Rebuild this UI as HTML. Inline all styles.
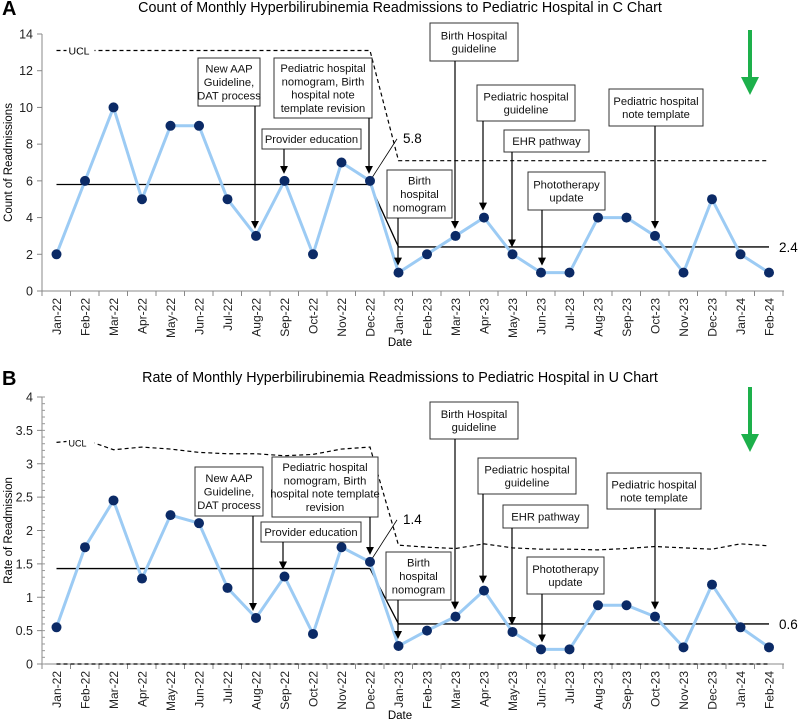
<!DOCTYPE html>
<html><head><meta charset="utf-8"><style>
body{margin:0;background:#fff;}
svg{display:block;font-family:"Liberation Sans",Arial,sans-serif;}
.ann{font-family:"Liberation Sans",sans-serif;font-size:11.2px;fill:#111;}
</style></head><body>
<svg id="s" width="800" height="724" viewBox="0 0 800 724" xmlns="http://www.w3.org/2000/svg">
<defs><marker id="ah" markerWidth="8" markerHeight="8" refX="6" refY="4" orient="auto" markerUnits="userSpaceOnUse"><path d="M0,0 L8,4 L0,8 z" fill="#000"/></marker></defs>
</svg>
<script>
const months=["Jan-22","Feb-22","Mar-22","Apr-22","May-22","Jun-22","Jul-22","Aug-22","Sep-22","Oct-22","Nov-22","Dec-22","Jan-23","Feb-23","Mar-23","Apr-23","May-23","Jun-23","Jul-23","Aug-23","Sep-23","Oct-23","Nov-23","Dec-23","Jan-24","Feb-24"];
const countValues=[2,6,10,5,9,9,5,3,6,2,7,6,1,2,3,4,2,1,1,4,4,3,1,5,2,1];
const countUCL=[13.1,13.1,13.1,13.1,13.1,13.1,13.1,13.1,13.1,13.1,13.1,13.1,7.1,7.1,7.1,7.1,7.1,7.1,7.1,7.1,7.1,7.1,7.1,7.1,7.1,7.1];
const countCenter=[5.8,2.4];
const countTicks=[0,2,4,6,8,10,12,14];
const rateValues=[0.55,1.75,2.45,1.28,2.23,2.11,1.14,0.69,1.31,0.45,1.75,1.53,0.27,0.5,0.71,1.1,0.48,0.22,0.22,0.88,0.88,0.71,0.25,1.19,0.55,0.25];
const rateUCL=[3.32,3.36,3.21,3.25,3.22,3.17,3.15,3.15,3.12,3.14,3.22,3.25,1.78,1.75,1.73,1.8,1.74,1.72,1.72,1.71,1.73,1.76,1.74,1.72,1.8,1.77];
const rateCenter=[1.43,0.6];
const rateCenterLabels=["1.4","0.6"];
const countCenterLabels=["5.8","2.4"];
const rateTicks=[0,0.5,1,1.5,2,2.5,3,3.5,4];
const annotations=[
 {t:["New AAP","Guideline,","DAT process"],i:7},
 {t:["Pediatric hospital","nomogram, Birth","hospital note","template revision"],i:11},
 {t:["Provider education"],i:8},
 {t:["Birth","hospital","nomogram"],i:12},
 {t:["Birth Hospital","guideline"],i:14},
 {t:["Pediatric hospital","guideline"],i:15},
 {t:["EHR pathway"],i:16},
 {t:["Phototherapy","update"],i:17},
 {t:["Pediatric hospital","note template"],i:21}
];
const S=document.getElementById('s');const NS="http://www.w3.org/2000/svg";
function el(tag,a,txt){const e=document.createElementNS(NS,tag);for(const k in a)e.setAttribute(k,a[k]);if(txt!==undefined)e.textContent=txt;S.appendChild(e);return e;}
function x(i){return 56.5+i*28.5;}
function chart(c){
 const y=v=>c.y0-(v/c.max)*(c.y0-c.yTop);
 let t=el('text',{x:2,y:c.top+15,'font-size':20,'font-weight':'bold'},c.letter);
 
 t=el('text',{x:400,y:c.top+12,'font-size':14.3,'text-anchor':'middle'},c.title);
 
 let a=el('line',{x1:42,y1:c.yTop,x2:42,y2:c.y0,stroke:'#888'});
 a=el('line',{x1:42,y1:c.y0,x2:784,y2:c.y0,stroke:'#888'});
 if(c.minor){for(let v=0;v<=c.max+1e-9;v+=0.1)el('line',{x1:42,y1:y(v),x2:45,y2:y(v),stroke:'#999'});}
 c.ticks.forEach(v=>{el('line',{x1:37,y1:y(v),x2:42,y2:y(v),stroke:'#888'});
  const l=el('text',{x:33,y:y(v)+4.5,'font-size':12.5,'text-anchor':'end',fill:'#222'},String(v));
  });
 for(let i=0;i<=26;i++)el('line',{x1:42+i*28.5,y1:c.y0,x2:42+i*28.5,y2:c.y0+5,stroke:'#888'});
 months.forEach((m,i)=>{const l=el('text',{x:0,y:0,'font-size':12,'text-anchor':'end',fill:'#222',transform:`translate(${x(i)+4.5},${c.y0+7}) rotate(-90)`},m);
  });
 t=el('text',{x:0,y:0,'font-size':11.5,'text-anchor':'middle',transform:`translate(12,${(c.y0+c.yTop)/2}) rotate(-90)`},c.ytitle);
 
 t=el('text',{x:400,y:c.y0+55,'font-size':11.5,'text-anchor':'middle'},'Date');
 
 const pts=c.ucl.map((v,i)=>`${x(i)},${y(v)}`).join(' ');
 let p=el('polyline',{points:pts,fill:'none',stroke:'#000','stroke-dasharray':'4,3','stroke-width':1.2});
 
 if(c.lcl){p=el('line',{x1:x(0),y1:c.y0,x2:x(25),y2:c.y0,stroke:'#000','stroke-dasharray':'4,3','stroke-width':1.2});}
 el('rect',{x:x(0)+10,y:y(c.ucl[0])-7,width:28,height:13,fill:'#fff'});
 t=el('text',{x:x(0)+12,y:y(c.ucl[0])+4,'font-size':c.lcl?9:10.5},'UCL');
 
 let cl=el('line',{x1:x(0),y1:y(c.center[0]),x2:x(11),y2:y(c.center[0]),stroke:'#000','stroke-width':1.3});
 
 cl=el('line',{x1:x(11),y1:y(c.center[0]),x2:x(12),y2:y(c.center[1]),stroke:'#000','stroke-width':1.3});
 
 cl=el('line',{x1:x(12),y1:y(c.center[1]),x2:x(25),y2:y(c.center[1]),stroke:'#000','stroke-width':1.3});
 
 el('line',{x1:x(11),y1:y(c.values[11]),x2:x(11)+27,y2:y(c.values[11])-42,stroke:'#000','stroke-width':0.8});
 t=el('text',{x:x(11)+33,y:y(c.values[11])-38,'font-size':13.5},c.clabels[0]);
 
 t=el('text',{x:779,y:y(c.center[1])+5,'font-size':13.5},c.clabels[1]);
 
 p=el('polyline',{points:c.values.map((v,i)=>`${x(i)},${y(v)}`).join(' '),fill:'none',stroke:'#9ccbf4','stroke-width':3});
 
 c.values.forEach((v,i)=>{const d=el('circle',{cx:x(i),cy:y(v),r:5,fill:'#0b2a66'});
  });
 c.boxes.forEach((b,k)=>{const an=annotations[k];const lines=(c.override&&c.override[k])||an.t;
  const r=el('rect',{x:b[0],y:c.top+b[1],width:b[2],height:b[3],fill:'#fff',stroke:'#333','stroke-width':1});
  
  const lh=13.4,n=lines.length,sy=c.top+b[1]+b[3]/2-(n-1)*lh/2+4;
  lines.forEach((s,j)=>{const tt=el('text',{x:b[0]+b[2]/2,y:sy+j*lh,'text-anchor':'middle',class:'ann'},s);
   });
  const ax=b[4];const ar=el('line',{x1:ax,y1:c.top+b[1]+b[3],x2:ax,y2:y(c.values[an.i])-9,stroke:'#000','stroke-width':1.2,'marker-end':'url(#ah)'});
  });
 el('line',{x1:750,y1:c.top+c.g,x2:750,y2:c.top+c.g+50,stroke:'#1db04b','stroke-width':4});
 const g=el('polygon',{points:`741,${c.top+c.g+47} 759,${c.top+c.g+47} 750,${c.top+c.g+65}`,fill:'#1db04b'});
 
}
chart({letter:'A',title:'Count of Monthly Hyperbilirubinemia Readmissions to Pediatric Hospital in C Chart',top:0,y0:291,yTop:34,max:14,ticks:countTicks,values:countValues,ucl:countUCL,center:countCenter,clabels:countCenterLabels,ytitle:'Count of Readmissions',lcl:false,minor:false,g:30,
 boxes:[[198,58,62,48,255],[274,58,98,60,369],[262,129,99,20,284],[387,170,65,48,398],[430,23,88,38,455],[477,85,98,36,483],[504,130,85,22,512],[528,172,77,38,542],[609,89,94,37,655]]});
chart({letter:'B',title:'Rate of Monthly Hyperbilirubinemia Readmissions to Pediatric Hospital in U Chart',top:370,y0:664,yTop:397,max:4,ticks:rateTicks,values:rateValues,ucl:rateUCL,center:rateCenter,clabels:rateCenterLabels,ytitle:'Rate of Readmission',lcl:true,minor:true,g:17,
 override:{1:["Pediatric hospital","nomogram, Birth","hospital note template","revision"]},
 boxes:[[195,97,68,49,253],[272,87,106,60,370],[261,152,100,20,283],[386,182,65,48,398],[430,32,88,37,455],[478,88,98,36,483],[503,135,85,23,512],[527,187,77,37,542],[607,103,94,36,655]]});
</script>
</body></html>
